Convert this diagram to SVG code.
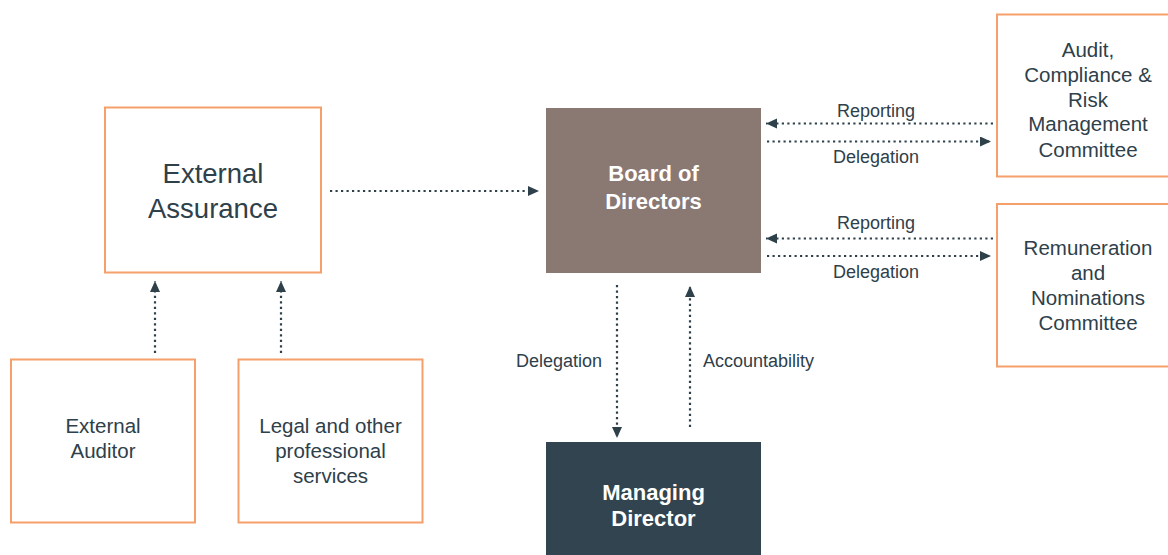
<svg xmlns="http://www.w3.org/2000/svg" width="1168" height="555" viewBox="0 0 1168 555">
<style>
.box{fill:#ffffff;stroke:#f5a06b;stroke-width:2}
.t{font-family:"Liberation Sans",Arial,sans-serif;fill:#2e404a;text-anchor:middle}
.m{font-size:20.5px}
.s{font-size:18px}
.b{font-family:"Liberation Sans",Arial,sans-serif;fill:#ffffff;font-weight:bold;font-size:22px;text-anchor:middle}
.c{fill:none;stroke:#2e404a;stroke-width:2.2;stroke-dasharray:2.2 3.3;marker-end:url(#ah)}
</style>
<defs>
<marker id="ah" markerUnits="userSpaceOnUse" markerWidth="12" markerHeight="11" refX="11" refY="5" orient="auto">
<path d="M0,0 L11,5 L0,10 z" fill="#2e404a"/>
</marker>
</defs>
<rect width="1168" height="555" fill="#ffffff"/>
<g id="connectors">
<line class="c" x1="330" y1="191" x2="539" y2="191"/>
<line class="c" x1="155" y1="353" x2="155" y2="281"/>
<line class="c" x1="281" y1="353" x2="281" y2="281"/>
<line class="c" x1="993" y1="123.5" x2="766" y2="123.5"/>
<line class="c" x1="767" y1="141.5" x2="991" y2="141.5"/>
<line class="c" x1="993" y1="238.5" x2="766" y2="238.5"/>
<line class="c" x1="767" y1="256" x2="991" y2="256"/>
<line class="c" x1="617" y1="285" x2="617" y2="438"/>
<line class="c" x1="690" y1="427" x2="690" y2="286"/>
<text class="t s" x="876" y="117">Reporting</text>
<text class="t s" x="876" y="162.5">Delegation</text>
<text class="t s" x="876" y="229">Reporting</text>
<text class="t s" x="876" y="278">Delegation</text>
<text class="t s" x="559" y="367">Delegation</text>
<text class="t s" x="703" y="367" style="text-anchor:start">Accountability</text>
</g>
<g id="external-assurance">
<rect class="box" x="105" y="107.5" width="216" height="165"/>
<text class="t" style="font-size:27.5px" x="213" y="183">External</text>
<text class="t" style="font-size:27.5px" x="213" y="218">Assurance</text>
</g>
<g id="external-auditor">
<rect class="box" x="11" y="359.5" width="184" height="163"/>
<text class="t m" x="103" y="432.5">External</text>
<text class="t m" x="103" y="457.5">Auditor</text>
</g>
<g id="legal">
<rect class="box" x="238.5" y="359.5" width="184" height="163"/>
<text class="t m" x="330.5" y="432.5">Legal and other</text>
<text class="t m" x="330.5" y="457.5">professional</text>
<text class="t m" x="330.5" y="482.5">services</text>
</g>
<g id="board">
<rect x="546" y="108" width="215" height="165" fill="#8a7873"/>
<text class="b" x="653.5" y="181">Board of</text>
<text class="b" x="653.5" y="208.5">Directors</text>
</g>
<g id="managing-director">
<rect x="546" y="442" width="215" height="115" fill="#31444f"/>
<text class="b" x="653.5" y="499.5">Managing</text>
<text class="b" x="653.5" y="525.5">Director</text>
</g>
<g id="audit-committee">
<rect class="box" x="997" y="14.5" width="180" height="162"/>
<text class="t m" x="1088" y="57">Audit,</text>
<text class="t m" x="1088" y="82">Compliance &amp;</text>
<text class="t m" x="1088" y="106.5">Risk</text>
<text class="t m" x="1088" y="131">Management</text>
<text class="t m" x="1088" y="156.5">Committee</text>
</g>
<g id="remuneration-committee">
<rect class="box" x="997" y="204" width="180" height="162.5"/>
<text class="t m" x="1088" y="255">Remuneration</text>
<text class="t m" x="1088" y="279.5">and</text>
<text class="t m" x="1088" y="305">Nominations</text>
<text class="t m" x="1088" y="330">Committee</text>
</g>
</svg>
